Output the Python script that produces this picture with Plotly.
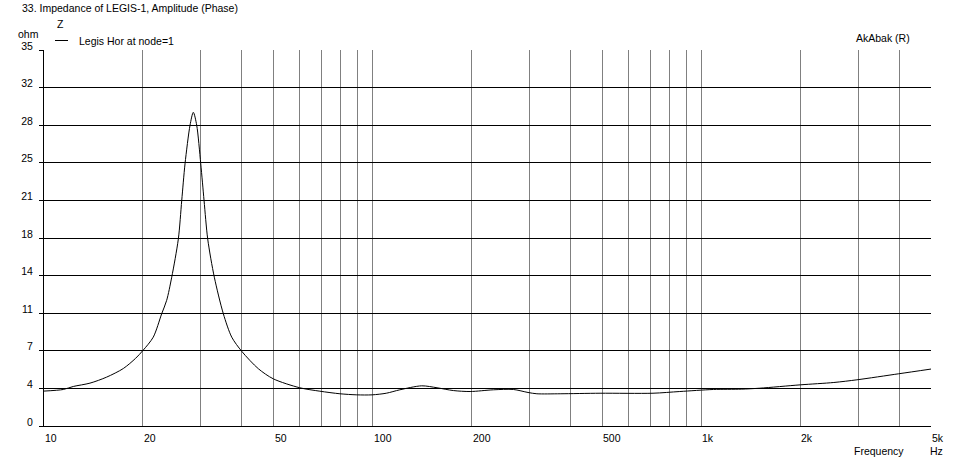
import numpy as np
import plotly.graph_objects as go

# ---- data ----
freq_hz = [10, 11.45, 12.28, 13.8, 15.51, 17.43, 19.0, 20.0, 21.5, 22.81, 23.62,
           24.47, 25.63, 26.25, 26.86, 27.82, 28.47, 29.15, 29.99, 30.69, 31.49,
           32.98, 35.13, 37.26, 39.97, 44.9, 49.86, 60, 69.1, 79.5, 89.5,
           99.6, 110, 121, 141, 157, 176, 198, 233, 268, 297, 316, 372, 492, 713,
           860, 1089, 1323, 1507, 2000, 2531, 2976, 3985, 5000]
impedance_ohm = [3.25, 3.4, 3.68, 3.99, 4.55, 5.35, 6.3, 7.03, 8.27, 10.45, 11.7,
                 13.85, 17.4, 21.0, 24.4, 28.0, 29.2, 28.0, 24.4, 21.0, 17.4,
                 13.85, 10.45, 8.27, 6.95, 5.33, 4.39, 3.56, 3.24, 3.0, 2.9,
                 2.9, 3.05, 3.37, 3.74, 3.56, 3.3, 3.21, 3.37, 3.4, 3.12, 3.0, 3.0,
                 3.05, 3.05, 3.21, 3.4, 3.43, 3.52, 3.83, 4.05, 4.3, 4.86, 5.3]

series_name = "Legis Hor at node=1"
title_text = "33. Impedance of LEGIS-1, Amplitude (Phase)"

y_tick_vals = [0, 3.5, 7, 10.5, 14, 17.5, 21, 24.5, 28, 31.5, 35]
y_tick_text = ["0", "4", "7", "11", "14", "18", "21", "25", "28", "32", "35"]

x_grid_vals = [20, 30, 40, 50, 60, 70, 80, 90, 100, 200, 300, 400, 500, 600, 700,
               800, 900, 1000, 2000, 3000, 4000, 5000]
x_label_vals = [10, 20, 50, 100, 200, 500, 1000, 2000, 5000]
x_label_text = ["10", "20", "50", "100", "200", "500", "1k", "2k", "5k"]

FONT = "Liberation Sans, Arial, sans-serif"
FS = 10.5

fig = go.Figure()
fig.add_trace(go.Scatter(
    x=freq_hz, y=impedance_ohm, mode="lines", name=series_name,
    line=dict(color="black", width=1, shape="spline", smoothing=0.8),
    showlegend=False, hoverinfo="x+y",
))

W, H = 955, 463
ML, MR, MT, MB = 44, 24, 50, 37

fig.update_layout(
    width=W, height=H,
    margin=dict(l=ML, r=MR, t=MT, b=MB, pad=0),
    paper_bgcolor="white", plot_bgcolor="white",
    font=dict(family=FONT, size=FS, color="black"),
    showlegend=False,
)
fig.update_xaxes(
    type="log", range=[1, np.log10(5000)],
    tickvals=x_grid_vals, showticklabels=False,
    showgrid=True, gridcolor="#808080", gridwidth=1,
    showline=True, linecolor="black", linewidth=1,
    ticks="", zeroline=False, mirror=False,
)
fig.update_yaxes(
    range=[0, 35], tickvals=y_tick_vals, ticktext=y_tick_text,
    showgrid=True, gridcolor="black", gridwidth=1,
    showline=True, linecolor="black", linewidth=1,
    ticks="outside", ticklen=4, tickcolor="black",
    ticklabelstandoff=4, ticklabelshift=-4,
    tickfont=dict(family=FONT, size=FS, color="black"),
    zeroline=False,
)

# x tick labels, left-aligned at their tick positions (as in the reference)
for v, t in zip(x_label_vals, x_label_text):
    fig.add_annotation(x=np.log10(v), y=0, xref="x", yref="paper", text=t,
                       showarrow=False, xanchor="left", yanchor="top",
                       xshift=-1, yshift=-4, font=dict(family=FONT, size=FS))

# convert pixel to paper coords relative to plot area
def px_to_paper(xp, yp):
    pw, ph = W - ML - MR, H - MT - MB
    return (xp - ML) / pw, 1 - (yp - MT) / ph

for (xp, yp, t, anc) in [
    (20, 8, title_text, "left"),
    (16, 34, "ohm", "left"),
    (55, 24, "Z", "left"),
    (77, 41, series_name, "left"),
    (854, 38, "AkAbak (R)", "left"),
    (852, 451, "Frequency", "left"),
    (928, 451, "Hz", "left"),
]:
    px, py = px_to_paper(xp, yp)
    fig.add_annotation(x=px, y=py, xref="paper", yref="paper", text=t,
                       showarrow=False, xanchor=anc, yanchor="middle",
                       font=dict(family=FONT, size=FS))

# legend line sample
lx0, ly = px_to_paper(55, 40.5)
lx1, _ = px_to_paper(68, 40.5)
fig.add_shape(type="line", xref="paper", yref="paper", x0=lx0, x1=lx1, y0=ly, y1=ly,
              line=dict(color="black", width=1))

fig.write_html("out.html", config={"displayModeBar": False},
               post_script="document.body.style.margin='0';document.body.style.overflow='hidden';")
